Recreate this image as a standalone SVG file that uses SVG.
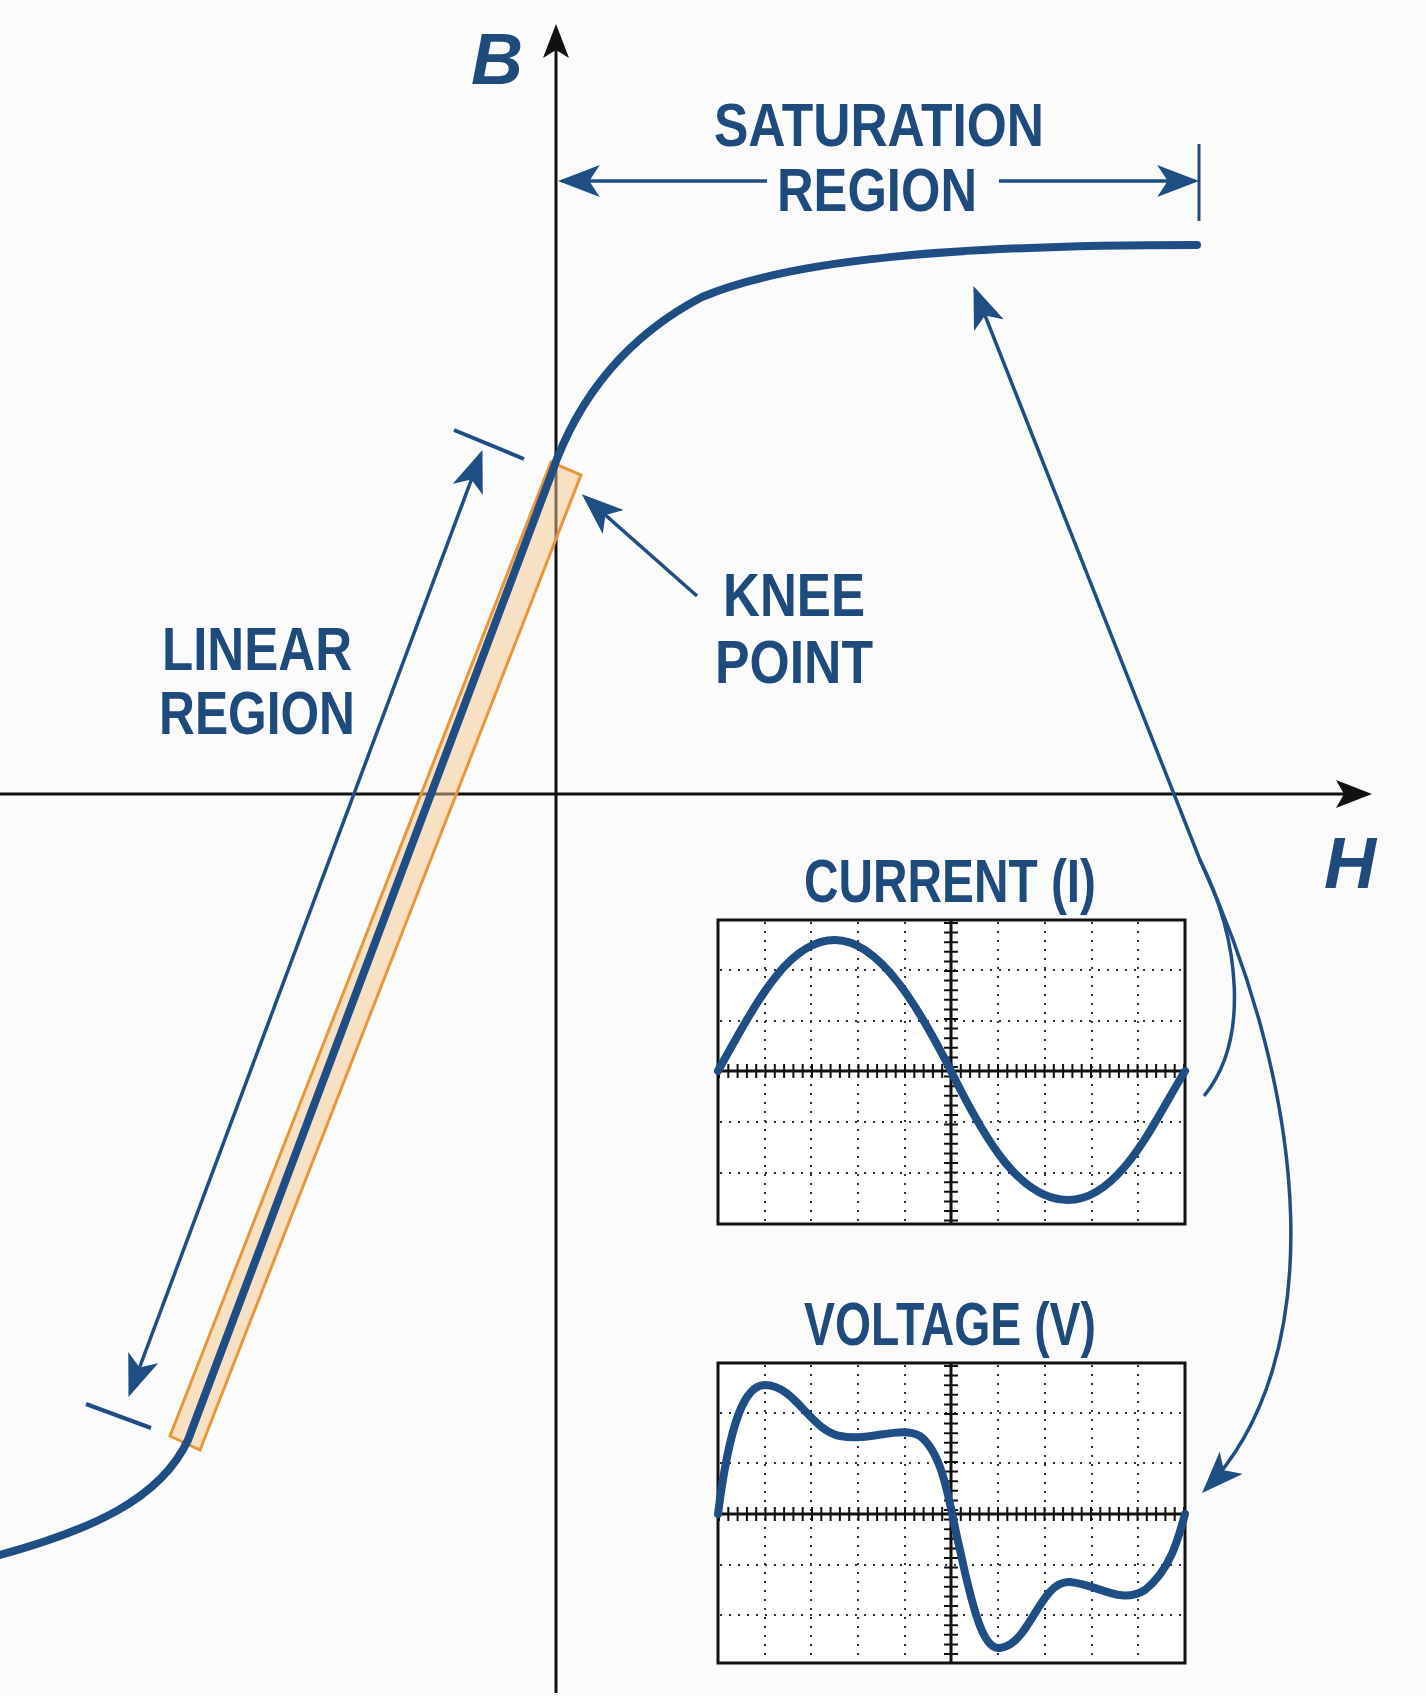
<svg xmlns="http://www.w3.org/2000/svg" width="1426" height="1696" viewBox="0 0 1426 1696">
<style>
.t{font-family:"Liberation Sans",Arial,sans-serif;font-weight:bold;fill:#1f4a7c;font-size:62px;text-anchor:middle}
.ax{font-family:"Liberation Sans",Arial,sans-serif;font-weight:bold;font-style:italic;fill:#1f4a7c;font-size:72px;text-anchor:middle}
.c{fill:none;stroke:#1f4e85;stroke-width:8;stroke-linecap:round;stroke-linejoin:round}
.th{fill:none;stroke:#1f4e85;stroke-width:3.5}
.g{stroke:#333;stroke-width:2;stroke-dasharray:2 7}
.box{fill:#fff;stroke:#111;stroke-width:3}
</style>
<defs>
<marker id="ah" viewBox="0 0 10 10" refX="9" refY="5" markerWidth="42" markerHeight="32" preserveAspectRatio="none" markerUnits="userSpaceOnUse" orient="auto-start-reverse"><path d="M0,0 L10,5 L0,10 L2.5,5 z" fill="#1f4e85"/></marker>
</defs>
<rect width="1426" height="1696" fill="#fbfbfb"/>
<g id="axes">
<line x1="556" y1="1693" x2="556" y2="40" stroke="#111" stroke-width="3"/>
<line x1="0" y1="794" x2="1350" y2="794" stroke="#111" stroke-width="3"/>
<path d="M556,24 l-13,34 l13,-8 l13,8 z" fill="#111"/>
<path d="M1372,794 l-36,-14 l8,14 l-8,14 z" fill="#111"/>
<text class="ax" x="497" y="84">B</text>
<text class="ax" x="1350" y="888">H</text>
</g>
<g id="linear-box">
<polygon points="170,1436 200,1450 581,475 551,462" fill="#f5c58a" fill-opacity="0.5" stroke="#e8973a" stroke-width="3"/>
</g>
<g id="curve">
<path class="c" d="M0,1555 C90,1530 160,1500 188,1440 L551,475 C575,405 620,340 702,297 C790,260 950,245 1197,245"/>
</g>
<g id="connectors">
<line class="th" x1="130" y1="1393" x2="481" y2="454" stroke-width="3" marker-start="url(#ah)" marker-end="url(#ah)"/>
<line x1="454" y1="430" x2="524" y2="459" stroke="#1f4e85" stroke-width="4"/>
<line x1="86" y1="1404" x2="151" y2="1428" stroke="#1f4e85" stroke-width="4"/>
<line class="th" x1="697" y1="596" x2="585" y2="497" stroke-width="4" marker-end="url(#ah)"/>
<line class="th" x1="767" y1="181" x2="562" y2="181" stroke-width="4" marker-end="url(#ah)"/>
<line class="th" x1="999" y1="181" x2="1195" y2="181" stroke-width="4" marker-end="url(#ah)"/>
<line x1="1199" y1="144" x2="1199" y2="221" stroke="#1f4e85" stroke-width="3"/>
<path class="th" d="M1204,1096 C1250,1040 1240,940 1200,860 L975,290" marker-end="url(#ah)"/>
<path class="th" d="M1200,860 C1310,1100 1330,1360 1205,1490" marker-end="url(#ah)"/>
</g>
<g id="sat-label"><text class="t" x="879" y="146" textLength="330" lengthAdjust="spacingAndGlyphs">SATURATION</text><text class="t" x="877" y="211" textLength="200" lengthAdjust="spacingAndGlyphs">REGION</text></g>
<g id="lin-label"><text class="t" x="257" y="670" textLength="190" lengthAdjust="spacingAndGlyphs">LINEAR</text><text class="t" x="257" y="734" textLength="196" lengthAdjust="spacingAndGlyphs">REGION</text></g>
<g id="knee-label"><text class="t" x="794" y="616" textLength="142" lengthAdjust="spacingAndGlyphs">KNEE</text><text class="t" x="794" y="683" textLength="158" lengthAdjust="spacingAndGlyphs">POINT</text></g>
<g id="current">
<text class="t" x="950" y="902" textLength="292" lengthAdjust="spacingAndGlyphs">CURRENT (I)</text>
<rect class="box" x="718" y="920" width="467" height="304"/>
<g class="g">
<line x1="765" y1="922" x2="765" y2="1222"/><line x1="811" y1="922" x2="811" y2="1222"/><line x1="858" y1="922" x2="858" y2="1222"/><line x1="905" y1="922" x2="905" y2="1222"/><line x1="998" y1="922" x2="998" y2="1222"/><line x1="1045" y1="922" x2="1045" y2="1222"/><line x1="1092" y1="922" x2="1092" y2="1222"/><line x1="1138" y1="922" x2="1138" y2="1222"/>
<line x1="720" y1="970" x2="1183" y2="970"/><line x1="720" y1="1021" x2="1183" y2="1021"/><line x1="720" y1="1122" x2="1183" y2="1122"/><line x1="720" y1="1173" x2="1183" y2="1173"/>
</g>
<line x1="718" y1="1071" x2="1185" y2="1071" stroke="#111" stroke-width="3"/>
<line x1="718" y1="1071" x2="1185" y2="1071" stroke="#111" stroke-width="14" stroke-dasharray="2 7.3"/>
<line x1="951" y1="920" x2="951" y2="1224" stroke="#111" stroke-width="3"/>
<line x1="951" y1="922" x2="951" y2="1224" stroke="#111" stroke-width="14" stroke-dasharray="2 7.6"/>
<path class="c" d="M718,1071 C760,995 790,940 835,940 C880,940 920,1010 951,1071 C985,1140 1020,1200 1068,1200 C1120,1200 1155,1120 1185,1071"/>
</g>
<g id="voltage">
<text class="t" x="950" y="1345" textLength="292" lengthAdjust="spacingAndGlyphs">VOLTAGE (V)</text>
<rect class="box" x="718" y="1363" width="467" height="300"/>
<g class="g">
<line x1="765" y1="1365" x2="765" y2="1661"/><line x1="811" y1="1365" x2="811" y2="1661"/><line x1="858" y1="1365" x2="858" y2="1661"/><line x1="905" y1="1365" x2="905" y2="1661"/><line x1="998" y1="1365" x2="998" y2="1661"/><line x1="1045" y1="1365" x2="1045" y2="1661"/><line x1="1092" y1="1365" x2="1092" y2="1661"/><line x1="1138" y1="1365" x2="1138" y2="1661"/>
<line x1="720" y1="1413" x2="1183" y2="1413"/><line x1="720" y1="1463" x2="1183" y2="1463"/><line x1="720" y1="1565" x2="1183" y2="1565"/><line x1="720" y1="1615" x2="1183" y2="1615"/>
</g>
<line x1="718" y1="1514" x2="1185" y2="1514" stroke="#111" stroke-width="3"/>
<line x1="718" y1="1514" x2="1185" y2="1514" stroke="#111" stroke-width="14" stroke-dasharray="2 7.3"/>
<line x1="951" y1="1363" x2="951" y2="1663" stroke="#111" stroke-width="3"/>
<line x1="951" y1="1365" x2="951" y2="1663" stroke="#111" stroke-width="14" stroke-dasharray="2 7.6"/>
<path class="c" d="M718,1514 C730,1420 745,1385 765,1385 C795,1385 810,1430 840,1436 C870,1442 900,1425 920,1436 C945,1455 950,1510 960,1550 C975,1620 985,1650 1000,1648 C1030,1645 1040,1580 1070,1582 C1100,1585 1120,1605 1145,1590 C1170,1570 1178,1540 1185,1514"/>
</g>
</svg>
